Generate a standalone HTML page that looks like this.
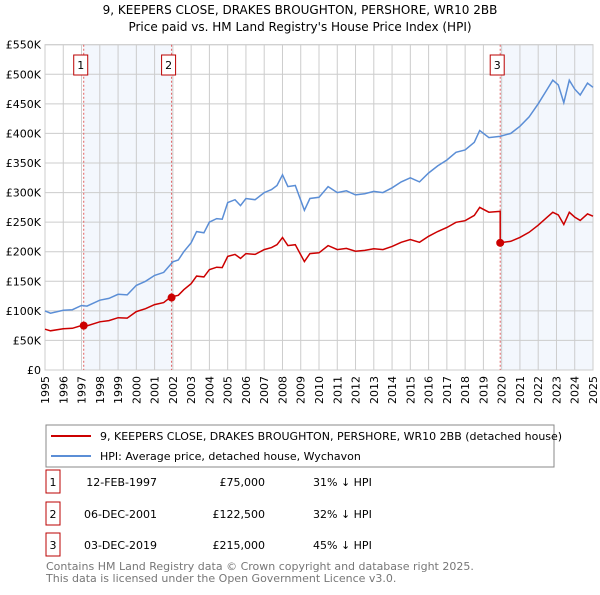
<!DOCTYPE html>
<html><head><meta charset="utf-8"><style>
body{margin:0;background:#fff;font-family:"Liberation Sans","DejaVu Sans",sans-serif;}
svg text{font-family:"DejaVu Sans","Liberation Sans",sans-serif;}
</style></head><body>
<svg width="600" height="590" viewBox="0 0 600 590" xmlns="http://www.w3.org/2000/svg">
<text x="300" y="14" text-anchor="middle" font-size="12" fill="#000">9, KEEPERS CLOSE, DRAKES BROUGHTON, PERSHORE, WR10 2BB</text>
<text x="300" y="31" text-anchor="middle" font-size="12" fill="#000">Price paid vs. HM Land Registry's House Price Index (HPI)</text>
<g id="plot"></g>
<g>
<rect x="46" y="425" width="508" height="42" fill="#fff" stroke="#888"/>
<line x1="51" y1="436" x2="91" y2="436" stroke="#cc0000" stroke-width="2"/>
<text x="100" y="440" font-size="11">9, KEEPERS CLOSE, DRAKES BROUGHTON, PERSHORE, WR10 2BB (detached house)</text>
<line x1="51" y1="456" x2="91" y2="456" stroke="#5b8ed6" stroke-width="2"/>
<text x="100" y="460" font-size="11">HPI: Average price, detached house, Wychavon</text>
</g>
<g id="table"></g>
<text x="46" y="570" font-size="11" fill="#777">Contains HM Land Registry data © Crown copyright and database right 2025.</text>
<text x="46" y="582" font-size="11" fill="#777">This data is licensed under the Open Government Licence v3.0.</text>
</svg>
<script>
const hpiYears=[1995,1995.3,1996,1996.5,1997,1997.3,1998,1998.5,1999,1999.5,2000,2000.5,2001,2001.5,2002,2002.3,2002.6,2003,2003.3,2003.7,2004,2004.4,2004.7,2005,2005.4,2005.7,2006,2006.5,2007,2007.4,2007.7,2008,2008.3,2008.7,2009.2,2009.5,2010,2010.5,2011,2011.5,2012,2012.5,2013,2013.5,2014,2014.5,2015,2015.5,2016,2016.5,2017,2017.5,2018,2018.5,2018.8,2019.3,2019.9,2020.5,2021,2021.5,2022,2022.5,2022.8,2023.1,2023.4,2023.7,2024,2024.3,2024.7,2025];
const hpiValues=[100,96,101,102,109,108,118,121,128,127,143,150,160,165,183,186,200,215,234,232,250,256,255,283,288,278,290,288,300,305,312,330,310,312,270,290,292,310,300,303,296,298,302,300,308,318,325,318,333,345,355,368,372,385,405,393,395,400,412,428,450,475,490,482,452,490,475,465,485,478];
const saleDates=[1997.12,2001.93,2019.92];
const salePrices=[75000,122500,215000];
const saleLabels=["12-FEB-1997","06-DEC-2001","03-DEC-2019"];
const salePriceText=["£75,000","£122,500","£215,000"];
const saleDiffText=["31% ↓ HPI","32% ↓ HPI","45% ↓ HPI"];
const yTicks=[0,50,100,150,200,250,300,350,400,450,500,550];
const yTickLabels=["£0","£50K","£100K","£150K","£200K","£250K","£300K","£350K","£400K","£450K","£500K","£550K"];
const xTicks=[1995,1996,1997,1998,1999,2000,2001,2002,2003,2004,2005,2006,2007,2008,2009,2010,2011,2012,2013,2014,2015,2016,2017,2018,2019,2020,2021,2022,2023,2024,2025];

const X0=45,X1=593,Y0=370,Y1=44.7;
const xs=y=>X0+(y-1995)/30*(X1-X0);
const ys=v=>Y0-v/550*(Y0-Y1);
const NS="http://www.w3.org/2000/svg";
const plot=document.getElementById('plot');
function mk(tag,attrs,parent){const e=document.createElementNS(NS,tag);for(const k in attrs)e.setAttribute(k,attrs[k]);(parent||plot).appendChild(e);return e;}
function hpiAt(t){for(let i=0;i<hpiYears.length-1;i++){if(t<=hpiYears[i+1]){const f=(t-hpiYears[i])/(hpiYears[i+1]-hpiYears[i]);return hpiValues[i]+f*(hpiValues[i+1]-hpiValues[i]);}}return hpiValues[hpiValues.length-1];}
let r=mk('rect',{x:xs(saleDates[0]),y:Y1,width:xs(saleDates[1])-xs(saleDates[0]),height:Y0-Y1,fill:'#eef3fc',opacity:0.7});


r=mk('rect',{x:xs(saleDates[2]),y:Y1,width:X1-xs(saleDates[2]),height:Y0-Y1,fill:'#eef3fc',opacity:0.7});


xTicks.forEach((t,i)=>{
 const l=mk('line',{x1:xs(t),x2:xs(t),y1:Y1,y2:Y0,stroke:'#ccc','stroke-width':1});
 
 
 const g=mk('g',{transform:'translate('+(xs(t)+4).toFixed(1)+','+(Y0+6)+') rotate(-90)'});
 const tx=mk('text',{x:0,y:0,'font-size':11,'text-anchor':'end'},g);
 tx.textContent=t;
 
 
});
yTicks.forEach((v,i)=>{
 const l=mk('line',{x1:X0,x2:X1,y1:ys(v),y2:ys(v),stroke:'#ccc','stroke-width':1});
 
 
 const tx=mk('text',{x:X0-4,y:ys(v)+4,'font-size':11,'text-anchor':'end'});
 tx.textContent=yTickLabels[i];
 
 
});
const frame=mk('rect',{x:X0,y:Y1,width:X1-X0,height:Y0-Y1,fill:'none',stroke:'#ccc'});


saleDates.forEach((d,i)=>{
 const l=mk('line',{x1:xs(d),x2:xs(d),y1:Y1,y2:Y0,stroke:'#e06060','stroke-width':1,'stroke-dasharray':'2,2'});
 
 
 const b=mk('rect',{x:xs(d)-10,y:55,width:14,height:20,fill:'#fff',stroke:'#b00'});
 
 
 const t=mk('text',{x:xs(d)-3,y:69,'font-size':11,'text-anchor':'middle'});
 t.textContent=i+1;
 
 
});
let hp=hpiYears.map((t,i)=>xs(t).toFixed(1)+','+ys(hpiValues[i]).toFixed(1)).join(' ');
const hl=mk('polyline',{points:hp,fill:'none',stroke:'#5b8ed6','stroke-width':1.5});


const ratios=saleDates.map((d,i)=>salePrices[i]/1000/hpiAt(d));
function ratioAt(t){let k=0;for(let i=0;i<saleDates.length;i++)if(t>=saleDates[i])k=i;return ratios[k];}
const pts=[];
hpiYears.forEach((t,i)=>{
 saleDates.forEach((d,j)=>{ if(d>(i?hpiYears[i-1]:0)&&d<=t){ if(j>0)pts.push([d-0.001,hpiAt(d)*ratios[j-1]]); pts.push([d,salePrices[j]/1000]); } });
 pts.push([t,hpiValues[i]*ratioAt(t)]);
});
pts.sort((a,b)=>a[0]-b[0]);
const pl=mk('polyline',{points:pts.map(p=>xs(p[0]).toFixed(1)+','+ys(p[1]).toFixed(1)).join(' '),fill:'none',stroke:'#cc0000','stroke-width':1.5});


saleDates.forEach((d,i)=>{
 const c=mk('circle',{cx:xs(d),cy:ys(salePrices[i]/1000),r:4,fill:'#cc0000'});
 
 
});
const tb=document.getElementById('table');
const rowY=[483,515,546];
saleDates.forEach((d,i)=>{
 const y=rowY[i];
 const b=mk('rect',{x:46,y:y-13,width:14,height:23,fill:'#fff',stroke:'#b00'},tb);
 
 
 let t=mk('text',{x:53,y:y+3,'font-size':11,'text-anchor':'middle'},tb);t.textContent=i+1;
 
 
 t=mk('text',{x:157,y:y+3,'font-size':11,'text-anchor':'end'},tb);t.textContent=saleLabels[i];
 
 
 t=mk('text',{x:265,y:y+3,'font-size':11,'text-anchor':'end'},tb);t.textContent=salePriceText[i];
 
 
 t=mk('text',{x:313,y:y+3,'font-size':11},tb);t.textContent=saleDiffText[i];
 
 
});
</script>
</body></html>
